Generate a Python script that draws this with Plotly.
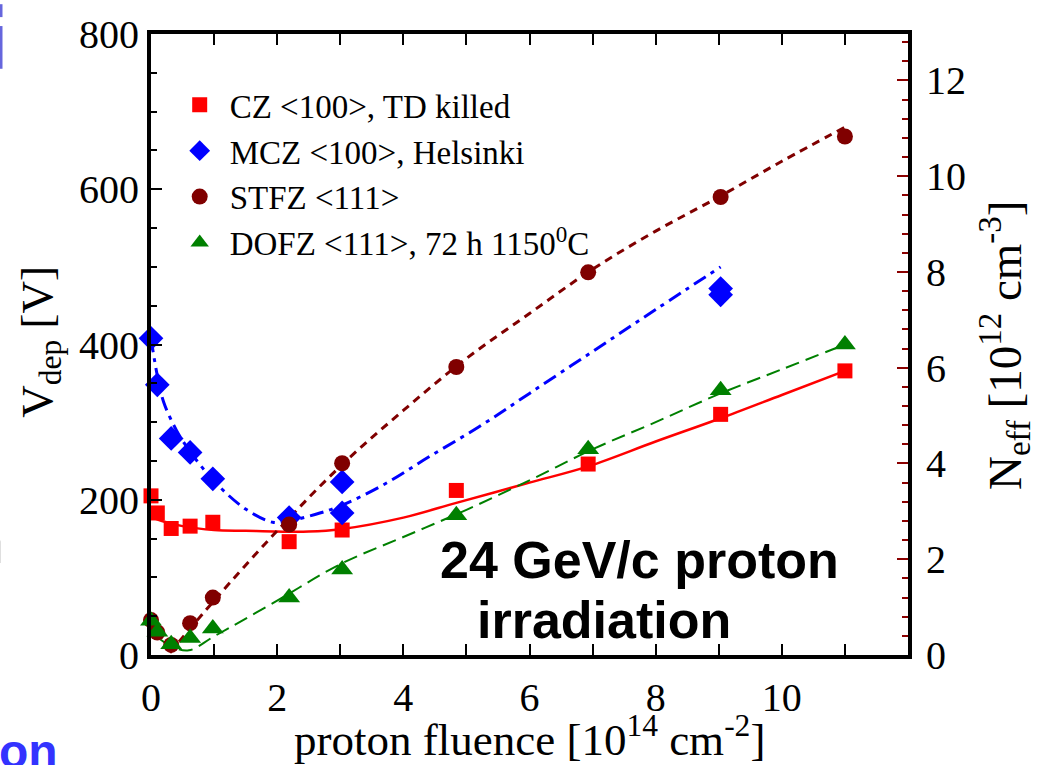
import plotly.graph_objects as go

# ---------------- data ----------------
# fluence in 1e14 p/cm^2, V_dep in V
cz_x = [0.0, 0.1, 0.32, 0.62, 0.98, 2.19, 3.03, 4.84, 6.93, 9.03, 11.0]
cz_v = [205, 183, 163, 166, 171, 146, 161, 212, 246, 310, 366]

mcz_x = [0.0, 0.1, 0.32, 0.62, 0.98, 2.19, 3.03, 3.03, 9.03, 9.03]
mcz_v = [408, 348, 279, 261, 227, 177, 223, 183, 472, 464]

stfz_x = [0.0, 0.1, 0.32, 0.62, 0.98, 2.19, 3.03, 4.84, 6.93, 9.03, 11.0]
stfz_v = [45, 29, 13, 41, 74, 168, 247, 371, 493, 590, 668]

dofz_x = [0.0, 0.1, 0.32, 0.62, 0.98, 2.19, 3.03, 4.84, 6.93, 9.03, 11.0]
dofz_v = [44, 30, 14, 22, 34, 74, 110, 180, 265, 341, 400]

# fit curves
cz_fit_x = [0.0, 0.2, 0.5, 1.0, 1.5, 2.0, 2.5, 3.0, 4.0, 4.84, 6.0, 6.93, 8.0, 9.03, 10.0, 11.0]
cz_fit_v = [178, 172, 166, 161, 160, 159, 159, 162, 177, 196, 222, 243, 275, 305, 335, 366]

mcz_fit_x = [0.0, 0.1, 0.2, 0.4, 0.62, 1.0, 1.5, 1.93, 2.2, 2.6, 3.0, 3.7, 4.4, 5.2, 6.0, 7.0, 8.0, 9.03]
mcz_fit_v = [408, 360, 326, 290, 262, 224, 188, 171, 173, 181, 192, 220, 255, 294, 337, 391, 445, 500]

stfz_fit_x = [0.3, 1.0, 2.0, 3.0, 4.0, 5.0, 6.0, 7.0, 8.0, 9.0, 10.0, 11.0]
stfz_fit_v = [3, 70, 160, 243, 315, 382, 440, 497, 546, 590, 636, 680]

dofz_fit_x = [0.15, 0.35, 0.6, 1.0, 2.0, 3.0, 4.0, 5.0, 6.0, 7.0, 8.0, 9.0, 10.0, 11.0]
dofz_fit_v = [20, 10, 6, 24, 70, 117, 152, 187, 225, 265, 300, 336, 368, 400]

names = ["CZ &lt;100&gt;, TD killed", "MCZ &lt;100&gt;, Helsinki",
         "STFZ &lt;111&gt;", "DOFZ &lt;111&gt;, 72 h 1150<sup>0</sup>C"]

x_ticks = [0, 2, 4, 6, 8, 10]
v_ticks = [0, 200, 400, 600, 800]
n_ticks = [0, 2, 4, 6, 8, 10, 12]

RED = "#ff0000"
BLUE = "#0000ff"
MAROON = "#800000"
GREEN = "#008000"
SERIF = "Liberation Serif, Times New Roman, serif"
SANS = "Liberation Sans, Arial, sans-serif"

fig = go.Figure()

# fit lines
fig.add_trace(go.Scatter(x=cz_fit_x, y=cz_fit_v, mode="lines", line=dict(color=RED, width=2.5, shape="spline"),
                         showlegend=False, hoverinfo="skip"))
fig.add_trace(go.Scatter(x=mcz_fit_x, y=mcz_fit_v, mode="lines",
                         line=dict(color=BLUE, width=3, shape="spline", dash="14px,6px,4px,6px"),
                         showlegend=False, hoverinfo="skip"))
fig.add_trace(go.Scatter(x=stfz_fit_x, y=stfz_fit_v, mode="lines",
                         line=dict(color=MAROON, width=3, shape="spline", dash="8px,6px"),
                         showlegend=False, hoverinfo="skip"))
fig.add_trace(go.Scatter(x=dofz_fit_x, y=dofz_fit_v, mode="lines",
                         line=dict(color=GREEN, width=2, shape="spline", dash="14px,7px"),
                         showlegend=False, hoverinfo="skip"))

# data markers
fig.add_trace(go.Scatter(x=cz_x, y=cz_v, mode="markers", name=names[0], cliponaxis=False,
                         marker=dict(symbol="square", size=15, color=RED)))
fig.add_trace(go.Scatter(x=mcz_x, y=mcz_v, mode="markers", name=names[1], cliponaxis=False,
                         marker=dict(symbol="diamond", size=19, color=BLUE)))
fig.add_trace(go.Scatter(x=stfz_x, y=stfz_v, mode="markers", name=names[2], cliponaxis=False,
                         marker=dict(symbol="circle", size=16, color=MAROON)))
fig.add_trace(go.Scatter(x=dofz_x, y=dofz_v, mode="markers", name=names[3], cliponaxis=False,
                         marker=dict(symbol="triangle-up", size=19, color=GREEN)))

# dummy trace to activate the right axis
fig.add_trace(go.Scatter(x=[None], y=[None], yaxis="y2", showlegend=False, hoverinfo="skip"))

fig.update_layout(
    width=1038, height=765,
    margin=dict(l=151, r=130, t=30, b=110),
    paper_bgcolor="white", plot_bgcolor="white",
    font=dict(family=SERIF, color="black"),
    showlegend=True,
    legend=dict(x=0.0247, y=0.931, xanchor="left", yanchor="top", itemwidth=50,
                font=dict(family=SERIF, size=33, color="black"),
                bgcolor="rgba(0,0,0,0)", borderwidth=0, tracegroupgap=0),
    xaxis=dict(range=[0, 12], tickvals=x_ticks, ticktext=[str(t) for t in x_ticks],
               ticks="inside", ticklen=11, tickwidth=1.5, tickcolor="black",
               minor=dict(dtick=1, tick0=0, ticks="inside", ticklen=11, tickwidth=1.5, tickcolor="black"),
               showline=True, linewidth=4, linecolor="black", mirror="ticks",
               showgrid=False, zeroline=False,
               tickfont=dict(family=SERIF, size=40, color="black"), ticklabelstandoff=4),
    yaxis=dict(range=[0, 800], tickvals=v_ticks, ticktext=[str(t) for t in v_ticks],
               ticks="inside", ticklen=11, tickwidth=1.5, tickcolor="black",
               minor=dict(dtick=50, tick0=0, ticks="inside", ticklen=6, tickwidth=1.5, tickcolor="black"),
               showline=True, linewidth=4, linecolor="black",
               showgrid=False, zeroline=False,
               tickfont=dict(family=SERIF, size=40, color="black"), ticklabelstandoff=0),
    yaxis2=dict(range=[0, 12.97], overlaying="y", side="right",
                tickvals=n_ticks, ticktext=[str(t) for t in n_ticks],
                ticks="inside", ticklen=11, tickwidth=1.5, tickcolor="#8b0000",
                minor=dict(dtick=0.4, tick0=0, ticks="inside", ticklen=6, tickwidth=1.5, tickcolor="#8b0000"),
                showline=True, linewidth=4, linecolor="black",
                showgrid=False, zeroline=False,
                tickfont=dict(family=SERIF, size=40, color="black"), ticklabelstandoff=6),
)

annos = [
    dict(text="proton fluence [10<sup>14</sup> cm<sup>-2</sup>]", xref="paper", yref="paper",
         x=0.5, y=-0.131, xanchor="center", yanchor="middle", showarrow=False,
         font=dict(family=SERIF, size=45, color="black")),
    dict(text="V<sub>dep</sub> [V]", xref="paper", yref="paper", textangle=-90,
         x=-0.147, y=0.504, xanchor="center", yanchor="middle", showarrow=False,
         font=dict(family=SERIF, size=45, color="black")),
    dict(text="N<sub>eff</sub> [10<sup>12</sup> cm<sup>-3</sup>]", xref="paper", yref="paper", textangle=-90,
         x=1.128, y=0.499, xanchor="center", yanchor="middle", showarrow=False,
         font=dict(family=SERIF, size=47, color="black")),
    dict(text="<b>24 GeV/c proton</b>", xref="x", yref="y", x=7.75, y=122,
         xanchor="center", yanchor="middle", showarrow=False,
         font=dict(family=SANS, size=52, color="black")),
    dict(text="<b>irradiation</b>", xref="x", yref="y", x=7.18, y=45,
         xanchor="center", yanchor="middle", showarrow=False,
         font=dict(family=SANS, size=52, color="black")),
    # slide fragments visible at the left edge
    dict(text="<b>on</b>", xref="paper", yref="paper", x=(-3 - 151) / 757, y=(655 - 752) / 625,
         xanchor="left", yanchor="middle", showarrow=False,
         font=dict(family=SANS, size=48, color="#3333ff")),
    dict(text="<b>n</b>", xref="paper", yref="paper", x=(6 - 151) / 757, y=(655 - 540) / 625,
         xanchor="right", yanchor="middle", showarrow=False,
         font=dict(family=SANS, size=64, color="black")),
]
fig.update_layout(annotations=annos)

fig.update_layout(shapes=[
    dict(type="line", xref="paper", yref="paper", x0=(1 - 151) / 757, x1=(1 - 151) / 757,
         y0=(655 - 0) / 625, y1=(655 - 13) / 625, line=dict(color="#6666dd", width=3)),
    dict(type="line", xref="paper", yref="paper", x0=(1 - 151) / 757, x1=(1 - 151) / 757,
         y0=(655 - 22) / 625, y1=(655 - 65) / 625, line=dict(color="#6666dd", width=3)),
])

fig.write_html("out.html")
